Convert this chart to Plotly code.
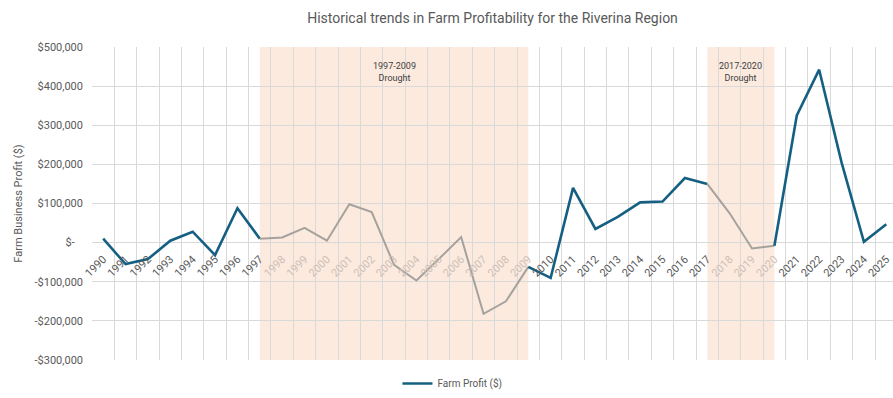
import plotly.graph_objects as go

years = list(range(1990, 2026))
profit = [10000, -55000, -42000, 5000, 28000, -32000, 88000, 10000, 13000, 38000,
          5000, 98000, 78000, -57000, -97000, -42000, 14000, -182000, -150000, -62000,
          -90000, 140000, 35000, 66000, 103000, 105000, 165000, 150000, 75000, -15000,
          -8000, 325000, 442000, 205000, 2000, 47000]
droughts = [(1997, 2009, "1997-2009<br>Drought"), (2017, 2020, "2017-2020<br>Drought")]
y_ticks = [-300000, -200000, -100000, 0, 100000, 200000, 300000, 400000, 500000]

TEAL = "#156082"
GREY = "#A5A29D"
TXT = "#595959"
FADED = "#CDBFB6"
FONT = "Roboto"

idx = list(range(len(years)))

def in_drought(y):
    return any(s < y <= e for s, e, _ in droughts)

def seg_grey(i):
    return any(s <= years[i] and years[i + 1] <= e for s, e, _ in droughts)

fig = go.Figure()

segments = []
cur = [0]
cur_grey = seg_grey(0)
for i in range(len(years) - 1):
    g = seg_grey(i)
    if g != cur_grey:
        segments.append((cur, cur_grey))
        cur = [i]
        cur_grey = g
    cur.append(i + 1)
segments.append((cur, cur_grey))

first_teal = True
for pts, g in segments:
    show = (not g) and first_teal
    if show:
        first_teal = False
    fig.add_trace(go.Scatter(
        x=[idx[p] for p in pts], y=[profit[p] for p in pts], mode="lines",
        line=dict(color=GREY if g else TEAL, width=2 if g else 2.6),
        name="Farm Profit ($)", showlegend=show, hoverinfo="skip"))

for s, e, label in droughts:
    i0, i1 = years.index(s), years.index(e)
    fig.add_shape(type="rect", xref="x", yref="paper", x0=i0, x1=i1, y0=0, y1=1,
                  fillcolor="rgba(251,226,210,0.72)", line_width=0, layer="between")
    fig.add_annotation(x=(i0 + i1) / 2, y=1, xref="x", yref="paper", yanchor="top",
                       yshift=-12, text=label, showarrow=False,
                       font=dict(family=FONT, size=9, color="#404040"))

def fmt(v):
    if v == 0:
        return "$-\u00a0\u00a0\u00a0"
    s = "${:,.0f}".format(abs(v))
    return ("-" + s) if v < 0 else s

ymin, ymax = y_ticks[0], y_ticks[-1]
ticktext = [("<span style='color:%s'>%d</span>" % (FADED, y)) if in_drought(y) else str(y)
            for y in years]

fig.update_layout(
    width=893, height=398,
    margin=dict(l=92, r=0, t=47, b=31),
    paper_bgcolor="white", plot_bgcolor="white",
    title=dict(text="Historical trends in Farm Profitability for the Riverina Region",
               x=0.5, xref="paper", xanchor="center", y=0.955, yanchor="middle",
               font=dict(family=FONT, size=14, color=TXT)),
    font=dict(family=FONT, size=10, color=TXT),
    showlegend=True,
    legend=dict(orientation="h", x=0.45, xanchor="center", y=-0.075, yanchor="middle",
                font=dict(family=FONT, size=10, color=TXT), itemwidth=30),
    xaxis=dict(range=[-0.5, 35.3], tickmode="array", tickvals=idx, ticktext=ticktext,
               tickangle=-45, showgrid=False, zeroline=False, showline=False, ticks="",
               anchor="free", position=(0 - ymin) / (ymax - ymin), ticklabelstandoff=7,
               tickfont=dict(family=FONT, size=11, color=TXT),
               minor=dict(tick0=-0.5, dtick=1, showgrid=True, gridcolor="#D9D9D9",
                          gridwidth=1, ticks="")),
    yaxis=dict(range=[ymin, ymax], tickmode="array", tickvals=y_ticks,
               ticktext=[fmt(v) for v in y_ticks], showgrid=True, gridcolor="#D9D9D9",
               gridwidth=1, zeroline=True, zerolinecolor="#D9D9D9", zerolinewidth=1,
               ticks="", ticklabelstandoff=8,
               tickfont=dict(family=FONT, size=11, color=TXT),
               title=dict(text="Farm Business Profit ($)", standoff=9,
                          font=dict(family=FONT, size=11, color=TXT))),
)

fig.write_html("out.html")
